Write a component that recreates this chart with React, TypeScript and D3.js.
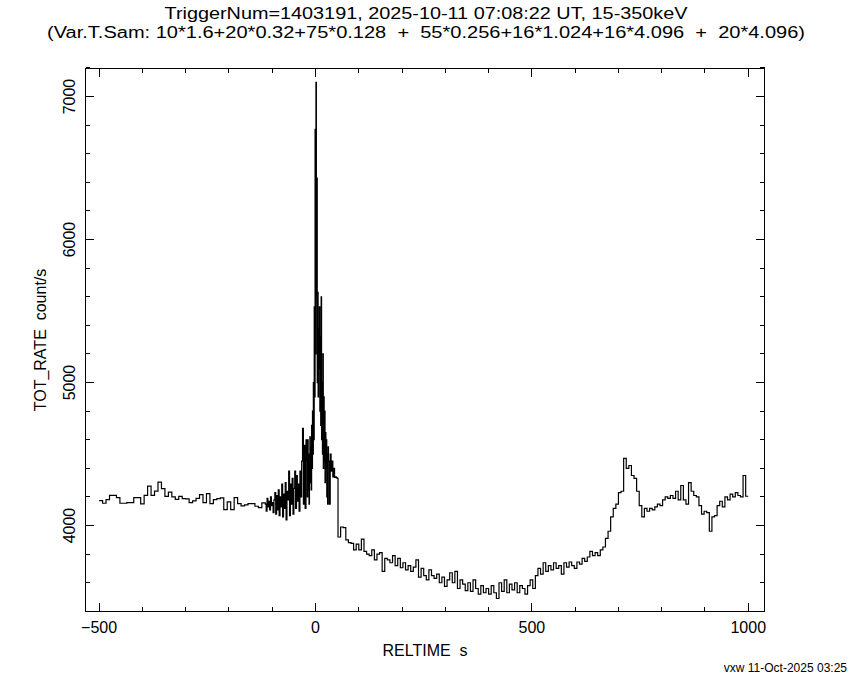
import React from "react";
import * as d3 from "d3";

// ---- data ----
// Segment 1: 8 s bins from -500 s
const seg1Start = -500;
const seg1Width = 8;
const seg1Values = [
  4174, 4156, 4181, 4211, 4211, 4195, 4156, 4156, 4160, 4160, 4195, 4195,
  4151, 4211, 4276, 4211, 4241, 4304, 4258, 4204, 4234, 4200, 4183, 4204,
  4188, 4186, 4160, 4172, 4190, 4216, 4160, 4223, 4153, 4181, 4188, 4193,
  4112, 4165, 4112, 4195, 4153, 4137, 4144, 4153, 4153, 4135, 4126, 4158,
];
// Segment 2a: 2 s bins from -116 s
const seg2aStart = -116;
const seg2aWidth = 2;
const seg2aValues = [
  4150, 4100, 4190, 4130, 4170, 4110, 4200, 4140, 4160, 4090, 4180, 4230,
  4080, 4210, 4110, 4250, 4070, 4200, 4130, 4290, 4060, 4220, 4120, 4300,
  4040, 4240, 4180, 4380, 4070, 4290, 4150, 4330, 4080, 4260, 4380, 4120,
  4350, 4170, 4290, 4100, 4380, 4200, 4450, 4680, 4150, 4560, 4120, 4600,
];
// Segment 2b: 1 s bins from -20 s (burst)
const seg2bStart = -20;
const seg2bWidth = 1;
const seg2bValues = [
  4450, 4200, 4600, 4250, 4500, 4150, 4400, 4620, 4300, 4550,
  4250, 4700, 4400, 4800, 4500, 5000, 4600, 5530, 4900, 6770,
  5200, 7100, 5600, 6430, 5000, 5630, 4900, 5380, 5100, 5530,
  4800, 5320, 4700, 5600, 4600, 5000, 4500, 5200, 4400, 4900,
  4450, 4800, 4300, 4650, 4400, 4600, 4200, 4500, 4150, 4550,
];
// Segment 2c: 2 s bins from 30 s
const seg2cStart = 30;
const seg2cWidth = 2;
const seg2cValues = [4450, 4150, 4500, 4380, 4450, 4340, 4400, 4337, 4340, 4335, 4330];
// Segment 3: 6 s bins from 52 s
const seg3Start = 52;
const seg3Width = 6;
const seg3Values = [
  3920, 3990, 3985, 3900, 3880, 3875, 3830, 3870, 3830, 3905, 3820, 3800,
  3790, 3830, 3760, 3800, 3810, 3680, 3770, 3760, 3740, 3790, 3720, 3770,
  3705, 3740, 3690, 3720, 3680, 3710, 3760, 3640, 3700, 3650, 3620, 3690,
  3650, 3630, 3660, 3600, 3640, 3575, 3620, 3670, 3600, 3680, 3560, 3620,
  3590, 3545, 3600, 3540, 3620, 3560, 3520, 3580, 3530, 3560, 3520, 3580,
  3530, 3490, 3600, 3540, 3620, 3530, 3590, 3550, 3600, 3530, 3580, 3560,
  3520, 3580, 3620, 3560, 3650, 3700, 3660, 3740, 3680, 3720, 3690, 3740,
  3700, 3720, 3660, 3740, 3710, 3745, 3720, 3700, 3745, 3730, 3770, 3750,
  3780, 3820, 3790, 3810, 3790, 3830, 3850, 3910, 3960, 4060, 4120, 4150,
  4230, 4240, 4470, 4400, 4420, 4350, 4330, 4240, 4140, 4060, 4120, 4100,
  4120, 4110, 4130, 4150, 4140, 4180, 4200, 4190, 4210, 4190, 4240, 4180,
  4280, 4180, 4150, 4300, 4240, 4210, 4200, 4140, 4080, 4100, 4090, 3960,
  4060, 4070, 4140, 4170, 4130, 4200, 4180, 4220, 4200, 4230, 4210, 4200,
  4350, 4205,
];

const xTickMajor = [-500, 0, 500, 1000];
const yTickMajor = [4000, 5000, 6000, 7000];

const titleLine1 = "TriggerNum=1403191, 2025-10-11 07:08:22 UT, 15-350keV";
const titleLine2 = "(Var.T.Sam: 10*1.6+20*0.32+75*0.128  +  55*0.256+16*1.024+16*4.096  +  20*4.096)";
const xLabel = "RELTIME  s";
const yLabel = "TOT_RATE  count/s";
const footer = "vxw 11-Oct-2025 03:25";

const segments = [
  { start: seg1Start, width: seg1Width, values: seg1Values },
  { start: seg2aStart, width: seg2aWidth, values: seg2aValues },
  { start: seg2bStart, width: seg2bWidth, values: seg2bValues },
  { start: seg2cStart, width: seg2cWidth, values: seg2cValues },
  { start: seg3Start, width: seg3Width, values: seg3Values },
];

export default function App() {
  const W = 850, H = 680;
  const L = 85.5, R = 764.5, T = 68.5, B = 611.5;
  const x = d3.scaleLinear().domain([-531.5, 1037.5]).range([L, R]);
  const y = d3.scaleLinear().domain([3399, 7196]).range([B, T]);

  const pts: [number, number][] = [];
  segments.forEach((s) => {
    s.values.forEach((v, i) => pts.push([s.start + i * s.width, v]));
  });
  const lastSeg = segments[segments.length - 1];
  pts.push([
    lastSeg.start + lastSeg.values.length * lastSeg.width,
    lastSeg.values[lastSeg.values.length - 1],
  ]);
  const line = d3
    .line<[number, number]>()
    .x((d) => x(d[0]))
    .y((d) => y(d[1]))
    .curve(d3.curveStepAfter);

  const xMinor = d3.range(-500, 1001, 100).filter((v) => v % 500 !== 0);
  const yMinor = d3.range(3400, 7201, 200).filter((v) => v % 1000 !== 0);
  const majLen = 8.5, minLen = 4.5;
  const font = "'Liberation Sans', Arial, sans-serif";

  return (
    <svg
      width={W}
      height={H}
      style={{ position: "absolute", left: 0, top: 0, background: "#fff" }}
      fontFamily={font}
    >
      <rect x={0} y={0} width={W} height={H} fill="#fff" />
      <g stroke="#000" strokeWidth={1} shapeRendering="crispEdges" fill="none">
        <rect x={L} y={T} width={R - L} height={B - T} />
        {xTickMajor.map((v) => (
          <g key={"xm" + v}>
            <line x1={x(v)} x2={x(v)} y1={B} y2={B - majLen} />
            <line x1={x(v)} x2={x(v)} y1={T} y2={T + majLen} />
          </g>
        ))}
        {xMinor.map((v) => (
          <g key={"xn" + v}>
            <line x1={x(v)} x2={x(v)} y1={B} y2={B - minLen} />
            <line x1={x(v)} x2={x(v)} y1={T} y2={T + minLen} />
          </g>
        ))}
        {yTickMajor.map((v) => (
          <g key={"ym" + v}>
            <line x1={L} x2={L + majLen} y1={y(v)} y2={y(v)} />
            <line x1={R} x2={R - majLen} y1={y(v)} y2={y(v)} />
          </g>
        ))}
        {yMinor.map((v) => (
          <g key={"yn" + v}>
            <line x1={L} x2={L + minLen} y1={y(v)} y2={y(v)} />
            <line x1={R} x2={R - minLen} y1={y(v)} y2={y(v)} />
          </g>
        ))}
      </g>
      <path d={line(pts) || ""} fill="none" stroke="#000" strokeWidth={1.2} />
      <g fill="#000" fontSize={16}>
        {xTickMajor.map((v) => (
          <text key={"xl" + v} x={x(v)} y={633} textAnchor="middle">
            {v < 0 ? "\u2212" + Math.abs(v) : String(v)}
          </text>
        ))}
        {yTickMajor.map((v) => (
          <text
            key={"yl" + v}
            transform={`translate(75,${y(v)}) rotate(-90)`}
            textAnchor="middle"
          >
            {v}
          </text>
        ))}
        <text x={425} y={656} textAnchor="middle" style={{ whiteSpace: "pre" }}>
          {xLabel}
        </text>
        <text
          transform={`translate(46,${(T + B) / 2}) rotate(-90)`}
          textAnchor="middle"
          style={{ whiteSpace: "pre" }}
        >
          {yLabel}
        </text>
        <text x={426} y={19} textAnchor="middle" textLength={523} lengthAdjust="spacingAndGlyphs">
          {titleLine1}
        </text>
        <text
          x={426}
          y={38}
          textAnchor="middle"
          style={{ whiteSpace: "pre" }}
          textLength={758}
          lengthAdjust="spacingAndGlyphs"
        >
          {titleLine2}
        </text>
      </g>
      <text x={847} y={672} textAnchor="end" fontSize={12} fill="#000">
        {footer}
      </text>
    </svg>
  );
}
